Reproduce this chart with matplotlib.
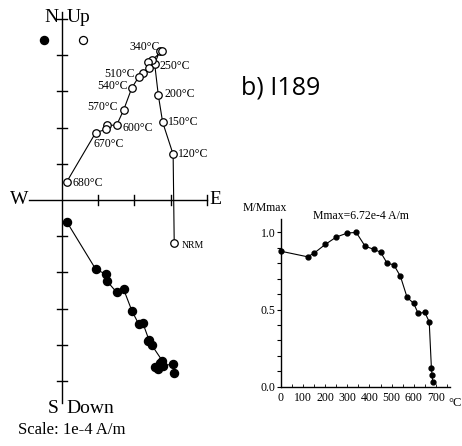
import matplotlib.pyplot as plt
import numpy as np

plt.rcParams['font.family'] = ['Liberation Serif', 'DejaVu Serif']

# Demagnetisation steps (deg C); 0 = NRM
steps = [0, 120, 150, 200, 250, 300, 340, 380, 420, 450, 480, 510,
         540, 570, 600, 620, 650, 670, 680]
# Vector components in units of 1e-4 A/m
east = [3.10, 3.07, 2.78, 2.66, 2.56, 2.70, 2.77, 2.48, 2.38, 2.40, 2.23,
        2.12, 1.93, 1.70, 1.51, 1.25, 1.21, 0.93, 0.13]
north = [-1.19, 1.26, 2.15, 2.90, 3.76, 4.12, 4.12, 3.86, 3.81, 3.65, 3.50,
         3.40, 3.10, 2.48, 2.07, 2.06, 1.95, 1.86, 0.50]
down = [4.78, 4.53, 4.58, 4.68, 4.60, 4.50, 4.44, 4.01, 3.90, 3.86, 3.39,
        3.43, 3.06, 2.46, 2.55, 2.25, 2.05, 1.91, 0.60]
labelled = {0: 'NRM', 120: '120°C', 150: '150°C', 200: '200°C', 250: '250°C',
            340: '340°C', 510: '510°C', 540: '540°C', 570: '570°C',
            600: '600°C', 670: '670°C', 680: '680°C'}

# Thermal demagnetisation curve
temps = [0, 120, 150, 200, 250, 300, 340, 380, 420, 450, 480, 510, 540,
         570, 600, 620, 650, 670, 680, 683, 686]
m_ratio = [0.878, 0.842, 0.866, 0.922, 0.970, 0.996, 1.0, 0.911, 0.890,
           0.872, 0.800, 0.790, 0.715, 0.579, 0.540, 0.475, 0.482, 0.421,
           0.119, 0.074, 0.030]

fig = plt.figure(figsize=(4.62, 4.46), dpi=100)

# Zijderveld diagram: 1 unit = 36.2 px, origin at (62, 200) px
u = 36.2
ax = fig.add_axes([0, 0, 1, 1])
ax.set_xlim(-62 / u, 400 / u)
ax.set_ylim(-246 / u, 200 / u)
ax.axis('off')

lk = dict(color='black', lw=1.0)
ax.plot([-0.9, 4.0], [0, 0], **lk)
ax.plot([0, 0], [5.2, -5.6], **lk)
t = 0.14
for k in range(1, 5):
    ax.plot([k, k], [-t, t], **lk)
for k in range(1, 6):
    ax.plot([-t, t], [k, k], **lk)
    ax.plot([-t, t], [-k, -k], **lk)

ax.text(-0.1, 5.05, 'N', ha='right', va='center', fontsize=14)
ax.text(0.12, 5.05, 'Up', ha='left', va='center', fontsize=14)
ax.text(-0.92, 0.02, 'W', ha='right', va='center', fontsize=14)
ax.text(4.06, 0.02, 'E', ha='left', va='center', fontsize=14)
ax.text(-0.1, -5.75, 'S', ha='right', va='center', fontsize=14)
ax.text(0.12, -5.75, 'Down', ha='left', va='center', fontsize=14)
ax.text(-1.22, -6.35, 'Scale: 1e-4 A/m', ha='left', va='center', fontsize=12)

# horizontal projection (open) and vertical projection (filled)
ax.plot(east, [-d for d in down], '-', color='black', lw=0.8,
        marker='o', ms=5.8, mfc='black', mec='black', zorder=3)
ax.plot(east, north, '-', color='black', lw=0.8,
        marker='o', ms=5.4, mfc='white', mec='black', mew=0.9, zorder=4)

ax.plot([-18 / u], [160 / u], 'o', ms=5.8, color='black')
ax.plot([21 / u], [160 / u], 'o', ms=5.8, mfc='white', mec='black', mew=0.9)

offsets = {0: (0.22, -0.08, 'left'), 120: (0.14, 0.0, 'left'),
           150: (0.16, 0.0, 'left'), 200: (0.17, 0.02, 'left'),
           250: (0.13, -0.05, 'left'), 340: (-0.07, 0.12, 'right'),
           510: (-0.1, 0.08, 'right'), 540: (-0.1, 0.05, 'right'),
           570: (-0.17, 0.1, 'right'), 600: (0.16, -0.08, 'left'),
           670: (-0.05, -0.32, 'left'), 680: (0.15, -0.03, 'left')}
for i, s in enumerate(steps):
    if s not in labelled:
        continue
    dx, dy, ha = offsets[s]
    ax.text(east[i] + dx, north[i] + dy, labelled[s], ha=ha, va='center',
            fontsize=7 if s == 0 else 8.5)

fig.text(241 / 462, 1 - 88 / 446, 'b) I189', family='Open Sans',
         fontsize=18, ha='left', va='center')

# M/Mmax curve
ax2 = fig.add_axes([281 / 462, 59.3 / 446, 169 / 462, 167.4 / 446])
ax2.plot(temps, m_ratio, '-', color='black', lw=0.8, marker='o', ms=3.5,
         clip_on=False)
ax2.set_xlim(0, 764)
ax2.set_ylim(0, 1.085)
for side in ['top', 'right']:
    ax2.spines[side].set_visible(False)
ax2.spines['left'].set_linewidth(1.0)
ax2.spines['bottom'].set_linewidth(1.0)
ax2.set_yticks([0, 0.5, 1.0])
ax2.set_yticklabels(['0.0', '0.5', '1.0'])
ax2.set_yticks(np.arange(0, 1.01, 0.1), minor=True)
ax2.set_xticks(range(0, 701, 100))
ax2.set_xticks(range(0, 751, 50), minor=True)
ax2.tick_params(axis='y', which='both', direction='out', length=3,
                width=0.8, labelsize=8.5, pad=1)
ax2.tick_params(axis='x', which='both', direction='in', length=2,
                width=0.6, labelsize=8.5, pad=4)
ax2.text(-0.23, 1.07, 'M/Mmax', transform=ax2.transAxes, fontsize=8.5,
         ha='left', va='center')
ax2.text(0.19, 1.02, 'Mmax=6.72e-4 A/m', transform=ax2.transAxes,
         fontsize=8.5, ha='left', va='center')
ax2.text(0.99, -0.1, '°C', transform=ax2.transAxes, fontsize=9,
         ha='left', va='center')

fig.savefig('out.png', dpi=100)
